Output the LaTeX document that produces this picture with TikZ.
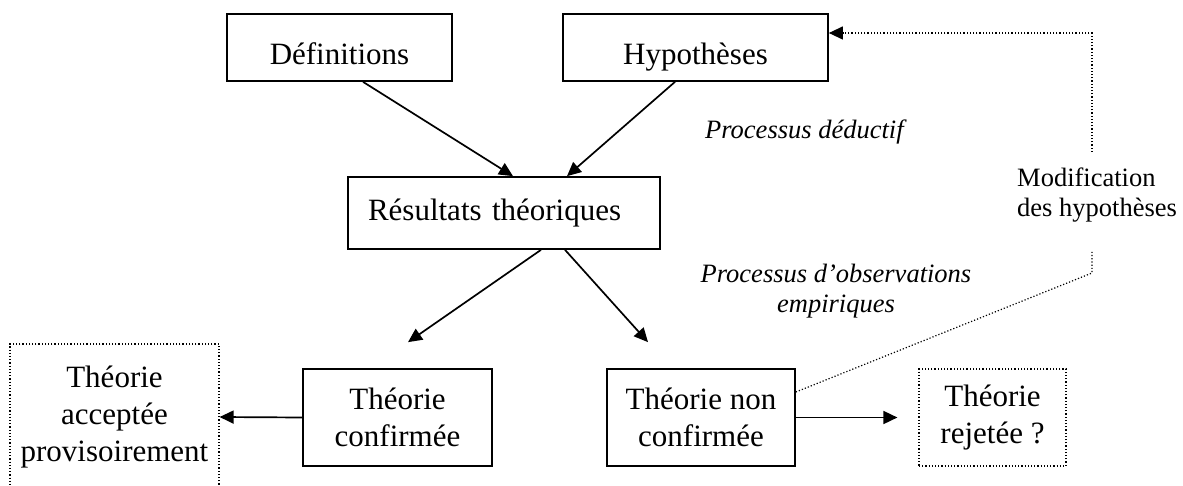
\documentclass[tikz,border=0pt]{standalone}
\usepackage{fontspec}
\setmainfont{Liberation Serif}
\usetikzlibrary{arrows.meta,calc}
\begin{document}
\begin{tikzpicture}[x=1pt,y=-1pt,
 boxtxt/.style={font=\fontsize{31}{37}\selectfont},
 solidbox/.style={draw, line width=1.7pt, inner sep=0, align=center, boxtxt},
 dotbox/.style={draw, dotted, line width=1.2pt, inner sep=0, align=center, boxtxt},
 tip/.style={-{Triangle[length=14pt,width=13pt]}},
 arr/.style={line width=1.7pt, tip},
 note/.style={font=\fontsize{26.5}{30.5}\selectfont\itshape, inner sep=0},
 modtxt/.style={font=\fontsize{26.5}{30.5}\selectfont, inner sep=0, align=left},
 fb/.style={dotted, line width=1.2pt}]
\useasboundingbox (0,0) rectangle (1183,486);
% top boxes
\node[solidbox, minimum width=225, minimum height=67, text height=35pt, text depth=0pt] (def) at (339.5,47.5) {Définitions};
\node[solidbox, minimum width=265, minimum height=67, text height=35pt, text depth=0pt] (hyp) at (695.5,47.5) {Hypothèses};
% middle box
\node[draw, line width=1.7pt, boxtxt, text width=272, inner xsep=20, inner ysep=0, align=left, minimum height=72] (res) at (504,213) {Résultats théoriques};
% bottom boxes
\node[solidbox, minimum width=189, minimum height=97] (conf) at (397.5,417.5) {Théorie\\confirmée};
\node[solidbox, minimum width=188, minimum height=97] (nonconf) at (701,417.5) {Théorie non\\confirmée};
\node[dotbox, minimum width=147, minimum height=97] (rej) at (992.5,417.5) {Théorie\\rejetée ?};
\node[dotbox, minimum width=209, minimum height=146] (acc) at (114.5,417) {Théorie\\acceptée\\provisoirement};
% annotations
\node[note, anchor=west] (ded) at (705,132) {Processus déductif};
\node[note, align=center] (obs) at (836,291) {Processus d’observations\\empiriques};
\node[modtxt, anchor=west] (mod) at (1017,195) {Modification\\des hypothèses};
% connectors
\draw[arr] ([xshift=23.5]def.south) -- ([xshift=9]res.north);
\draw[arr] ([xshift=-20.5]hyp.south) -- ([xshift=63]res.north);
\draw[arr] ([xshift=37]res.south) -- ([xshift=10.5,yshift=26]conf.north);
\draw[arr] ([xshift=61]res.south) -- ([xshift=-53,yshift=26]nonconf.north);
\draw[arr] (conf.west) -- (acc.east);
\draw[arr] (nonconf.east) -- ([xshift=-21]rej.west);
% feedback loop
\coordinate (k1) at (1092,273);
\coordinate (k2) at (1092,252);
\coordinate (k3) at (1092,152);
\coordinate (k4) at (1092,33);
\draw[fb] ([yshift=25.5]nonconf.east) -- (k1) -- (k2);
\draw[fb, tip] (k3) -- (k4) -- (k4 -| hyp.east);
\end{tikzpicture}
\end{document}
